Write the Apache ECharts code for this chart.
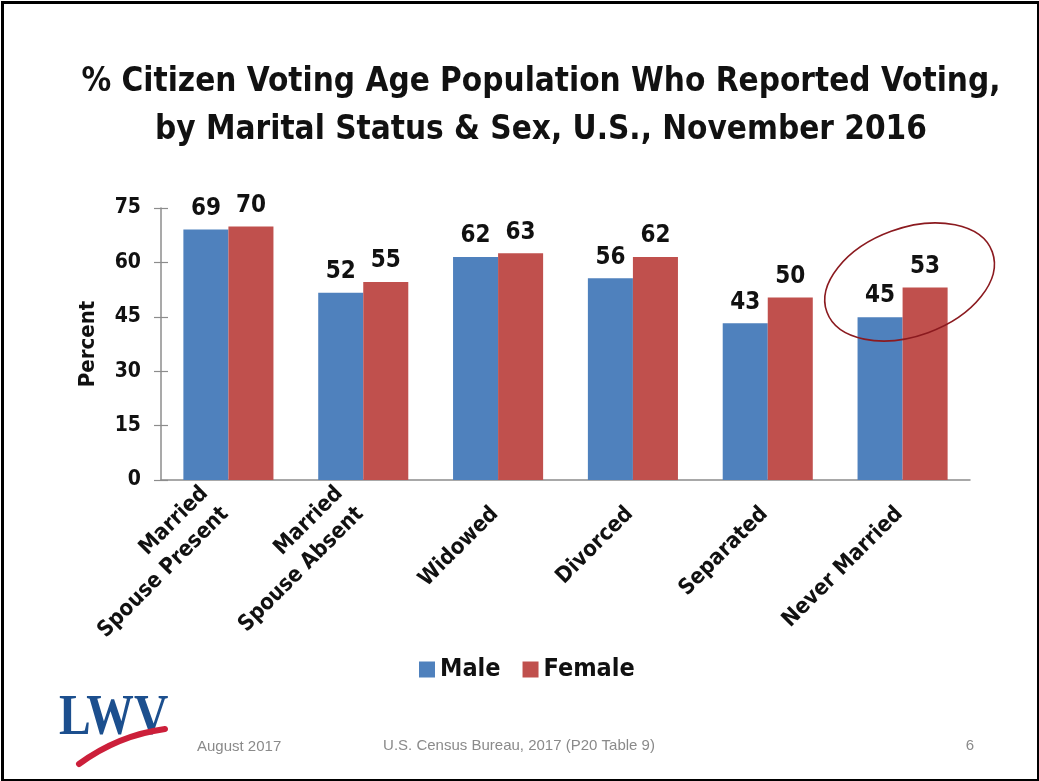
<!DOCTYPE html>
<html>
<head>
<meta charset="utf-8">
<script src="https://cdn.jsdelivr.net/npm/echarts@6/dist/echarts.min.js"></script>
<style>
html,body{margin:0;padding:0;background:#fff;}
#main{width:1039px;height:781px;}
</style>
</head>
<body>
<div id="main"></div>
<script>
// ---- data ----
var categories = ['Married\nSpouse Present', 'Married\nSpouse Absent', 'Widowed', 'Divorced', 'Separated', 'Never Married'];
var maleValues = [69.1, 51.6, 61.5, 55.6, 43.2, 44.9];
var femaleValues = [69.9, 54.6, 62.5, 61.5, 50.3, 53.1];
var seriesNames = ['Male', 'Female'];
var yTicks = [0, 15, 30, 45, 60, 75];

var FONT = "'Liberation Sans Narrow', 'DejaVu Sans Condensed', 'Noto Sans', sans-serif";
var chart = echarts.init(document.getElementById('main'), null, {renderer: 'canvas'});

var labelCfg = {
  show: true, position: 'top', distance: 9,
  fontFamily: FONT, fontWeight: 'bold', fontSize: 24, color: '#111',
  formatter: function (p) { return Math.round(p.value); }
};

var option = {
  backgroundColor: '#fff',
  animation: false,
  title: {
    text: '% Citizen Voting Age Population Who Reported Voting,\nby Marital Status & Sex, U.S., November 2016',
    left: 536, top: 53, textAlign: 'center',
    textStyle: {fontFamily: FONT, fontWeight: 'bold', fontSize: 33, lineHeight: 48, color: '#111', align: 'center'}
  },
  legend: {
    data: seriesNames,
    left: 414, top: 652,
    icon: 'rect', itemWidth: 16, itemHeight: 16, itemGap: 22,
    textStyle: {fontFamily: FONT, fontWeight: 'bold', fontSize: 25, color: '#111'}
  },
  grid: {left: 161, right: 69, top: 208, bottom: 301, containLabel: false},
  xAxis: {
    type: 'category', data: categories,
    axisLine: {show: true, lineStyle: {color: '#8c8c8c', width: 1.5}},
    axisTick: {show: false},
    axisLabel: {
      rotate: 45, margin: 48, interval: 0, align: 'right', verticalAlign: 'bottom',
      padding: [0, -10, 0, 0],
      fontFamily: FONT, fontWeight: 'bold', fontSize: 22, lineHeight: 29, color: '#111'
    }
  },
  yAxis: [{
    type: 'value', min: yTicks[0], max: yTicks[yTicks.length - 1], interval: 15,
    name: 'Percent', nameLocation: 'middle', nameRotate: 90, nameGap: 62,
    nameTextStyle: {fontFamily: FONT, fontWeight: 'bold', fontSize: 22, color: '#111'},
    axisLine: {show: true, lineStyle: {color: '#8c8c8c', width: 1.5}},
    axisTick: {show: true, length: 7, lineStyle: {color: '#8c8c8c', width: 1.2}},
    axisLabel: {margin: 20, fontFamily: FONT, fontWeight: 'bold', fontSize: 21, color: '#111'},
    splitLine: {show: false}
  }, {
    type: 'value', min: yTicks[0], max: yTicks[yTicks.length - 1], interval: 15,
    position: 'left',
    axisLine: {show: false},
    axisTick: {show: true, inside: true, length: 7, lineStyle: {color: '#8c8c8c', width: 1.2}},
    axisLabel: {show: false},
    splitLine: {show: false}
  }],
  series: [{
    name: seriesNames[0], type: 'bar', data: maleValues,
    barWidth: '33.4%', barGap: '0%',
    itemStyle: {color: '#4F81BD'},
    label: labelCfg
  }, {
    name: seriesNames[1], type: 'bar', data: femaleValues,
    barWidth: '33.4%', barGap: '0%',
    itemStyle: {color: '#C0504D'},
    label: labelCfg
  }]
};
chart.setOption(option);

// annotation ellipse around "Never Married", positioned through the axes
var c = chart.convertToPixel({xAxisIndex: 0, yAxisIndex: 0}, [5, 54.6]);

chart.setOption({
  graphic: [
    {
      type: 'rect', left: 0, top: 0, z: 100, silent: true,
      shape: {x: 1.5, y: 1.5, width: 1036, height: 778},
      style: {fill: 'none', stroke: '#000', lineWidth: 3}
    },
    {
      type: 'ellipse', z: 50, silent: true,
      x: c[0] + 7, y: c[1],
      rotation: 20 * Math.PI / 180,
      shape: {cx: 0, cy: 0, rx: 88, ry: 54},
      style: {fill: 'none', stroke: '#8b1a1f', lineWidth: 1.6}
    },
    {
      type: 'text', z: 60, silent: true,
      x: 59, y: 690, scaleX: 0.82,
      style: {text: 'LWV', font: 'bold 58px "Liberation Serif", "DejaVu Serif", serif', fill: '#1c4f8e'}
    },
    {
      type: 'bezierCurve', z: 61, silent: true,
      shape: {x1: 79, y1: 764, x2: 165, y2: 729, cpx1: 105, cpy1: 745, cpx2: 135, cpy2: 733},
      style: {stroke: '#cc1f3a', lineWidth: 6, lineCap: 'round', fill: 'none'}
    },
    {
      type: 'text', silent: true, x: 197, y: 739,
      style: {text: 'August 2017', font: '15px "Liberation Sans", sans-serif', fill: '#8a8a8a'}
    },
    {
      type: 'text', silent: true, x: 519, y: 746,
      style: {text: 'U.S. Census Bureau, 2017 (P20 Table 9)', font: '15px "Liberation Sans", sans-serif', fill: '#8a8a8a', textAlign: 'center', textVerticalAlign: 'middle'}
    },
    {
      type: 'text', silent: true, x: 970, y: 746,
      style: {text: '6', font: '15px "Liberation Sans", sans-serif', fill: '#8a8a8a', textAlign: 'center', textVerticalAlign: 'middle'}
    }
  ]
});
</script>
</body>
</html>
